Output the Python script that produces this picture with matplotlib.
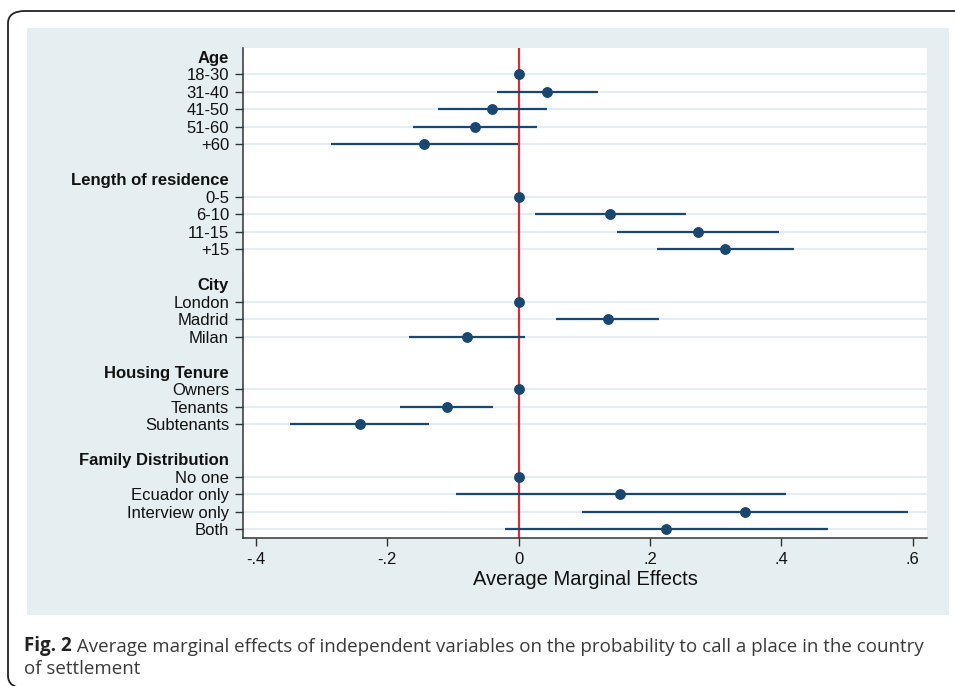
import matplotlib
matplotlib.use('Agg')
import matplotlib.pyplot as plt
from matplotlib.patches import Rectangle, FancyBboxPatch

# groups of categories and their estimates (average marginal effects, 95% CI)
groups = ["Age", "Length of residence", "City", "Housing Tenure", "Family Distribution"]
age_labels = ["18-30", "31-40", "41-50", "51-60", "+60"]
age_est = [0.0, 0.043, -0.040, -0.0665, -0.144]
age_lo = [0.0, -0.0335, -0.123, -0.161, -0.286]
age_hi = [0.0, 0.121, 0.0436, 0.028, -0.0015]

res_labels = ["0-5", "6-10", "11-15", "+15"]
res_est = [0.0, 0.1395, 0.273, 0.3147]
res_lo = [0.0, 0.0248, 0.150, 0.210]
res_hi = [0.0, 0.2548, 0.397, 0.419]

city_labels = ["London", "Madrid", "Milan"]
city_est = [0.0, 0.1355, -0.079]
city_lo = [0.0, 0.0568, -0.1666]
city_hi = [0.0, 0.214, 0.009]

tenure_labels = ["Owners", "Tenants", "Subtenants"]
tenure_est = [0.0, -0.1097, -0.2417]
tenure_lo = [0.0, -0.181, -0.348]
tenure_hi = [0.0, -0.0387, -0.136]

family_labels = ["No one", "Ecuador only", "Interview only", "Both"]
family_est = [0.0, 0.155, 0.345, 0.2243]
family_lo = [0.0, -0.096, 0.097, -0.0213]
family_hi = [0.0, 0.4066, 0.593, 0.4705]

xticks = [-0.4, -0.2, 0, 0.2, 0.4, 0.6]
xtick_labels = ["-.4", "-.2", "0", ".2", ".4", ".6"]

blocks = [
    (age_labels, age_est, age_lo, age_hi),
    (res_labels, res_est, res_lo, res_hi),
    (city_labels, city_est, city_lo, city_hi),
    (tenure_labels, tenure_est, tenure_lo, tenure_hi),
    (family_labels, family_est, family_lo, family_hi),
]

navy = "#1a476f"
W, H = 955, 686
plt.rcParams['font.family'] = ['Liberation Sans', 'DejaVu Sans']
fig = plt.figure(figsize=(W / 100, H / 100), dpi=100)

# outer frame and shaded panel (behind the axes)
fig.patches.append(FancyBboxPatch((8 / W, 1 - 688 / H), 1.2, (688 - 11) / H,
                                  boxstyle="round,pad=0,rounding_size=0.018",
                                  transform=fig.transFigure, facecolor="white",
                                  edgecolor="#222222", linewidth=1.3, zorder=-3))
fig.patches.append(Rectangle((27 / W, 1 - 615 / H), (949 - 27) / W, (615 - 28) / H,
                             transform=fig.transFigure, facecolor="#e5eef0",
                             edgecolor="none", zorder=-2))

ax = fig.add_axes([243 / W, 1 - 538 / H, (927 - 243) / W, (538 - 48) / H])
ax.set_facecolor("white")

# build row positions: header row, then items, blank row between groups
pos = 0
tick_pos, tick_lab, header_idx = [], [], []
for g, (labels, est, lo, hi) in zip(groups, blocks):
    header_idx.append(len(tick_pos))
    tick_pos.append(pos)
    tick_lab.append(g)
    pos += 1
    ys = []
    for lab in labels:
        tick_pos.append(pos)
        tick_lab.append(lab)
        ys.append(pos)
        pos += 1
    pos += 1
    for y, e, l, h in zip(ys, est, lo, hi):
        ax.axhline(y, color="#e4edf1", linewidth=1.5, zorder=1)
        if h - l > 0:
            ax.plot([l, h], [y, y], color=navy, linewidth=1.6, zorder=3,
                    solid_capstyle='butt')
        ax.plot(e, y, 'o', color=navy, markersize=6.8, zorder=4)

ax.axvline(0, color="#d22d43", linewidth=1.6, zorder=2)

ax.set_ylim(pos - 1.5, -0.5)
ax.set_xlim(-0.42, 0.622)
ax.set_yticks(tick_pos)
ax.set_yticklabels(tick_lab, fontsize=12, color="#111111")
for i in header_idx:
    ax.get_yticklabels()[i].set_fontweight('bold')
    ax.yaxis.get_major_ticks()[i].tick1line.set_visible(False)

ax.set_xticks(xticks)
ax.set_xticklabels(xtick_labels, fontsize=12, color="#111111")
ax.tick_params(axis='y', length=6, width=1, color="#333333", pad=4)
ax.tick_params(axis='x', length=6, width=1, color="#333333", pad=4)
ax.set_xlabel("Average Marginal Effects", fontsize=14.5, color="#111111", labelpad=2)

for s in ["top", "right"]:
    ax.spines[s].set_visible(False)
for s in ["left", "bottom"]:
    ax.spines[s].set_color("#333333")
    ax.spines[s].set_linewidth(1.1)

# caption
cap_font = ['Open Sans', 'DejaVu Sans']
cap_size = 13.5
t1 = fig.text(24 / W, 1 - 651 / H, "Fig. 2", fontsize=cap_size, fontweight='bold',
              family=cap_font, color="#222222", va='baseline')
fig.add_artist(plt.Annotation(
    " Average marginal effects of independent variables on the probability to call a place in the country",
    xy=(1, 0), xycoords=t1, va='bottom', ha='left', fontsize=cap_size,
    family=cap_font, color="#3a3a3a", annotation_clip=False))
fig.text(24 / W, 1 - 674 / H, "of settlement", fontsize=cap_size, family=cap_font,
         color="#3a3a3a", va='baseline')

fig.savefig("out.png", dpi=100)
